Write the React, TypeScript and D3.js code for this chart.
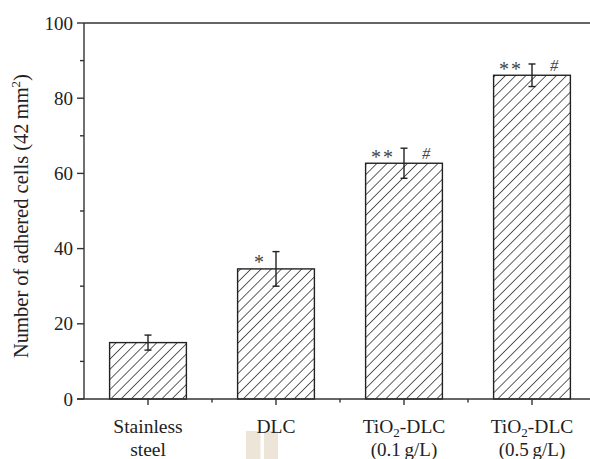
import React from "react";
import * as d3 from "d3";

const categories = ["Stainless steel", "DLC", "TiO2-DLC (0.1 g/L)", "TiO2-DLC (0.5 g/L)"];
const values = [15.0, 34.6, 62.7, 86.1];
const errors = [2.0, 4.6, 4.0, 3.0];
const stars = ["", "*", "**", "**"];
const hashes = ["", "", "#", "#"];
const yTicks = [0, 20, 40, 60, 80, 100];
const yMinorTicks = [10, 30, 50, 70, 90];

const W = 590, H = 459;
const left = 84, right = 596, top = 23, bottom = 399;
const axisColor = "#333";
const font = "'Liberation Serif', 'DejaVu Serif', serif";

export default function App() {
  const x = d3.scaleBand<string>().domain(categories).range([left, right]).paddingInner(0.4).paddingOuter(0.2);
  const y = d3.scaleLinear().domain([0, 100]).range([bottom, top]);
  const step = x.step();
  const bw = x.bandwidth();
  const boundaries = categories.slice(1).map((c) => (x(c) as number) - (step - bw) / 2);

  const labelLines = (c: string, i: number) => {
    const cx = (x(c) as number) + bw / 2;
    const y1 = 433, y2 = 456;
    if (i === 0) {
      return (
        <text key={c} textAnchor="middle" fontSize={19.5} fill="#222" fontFamily={font}>
          <tspan x={cx} y={y1}>Stainless</tspan>
          <tspan x={cx} y={y2}>steel</tspan>
        </text>
      );
    }
    if (i === 1) {
      return (
        <text key={c} x={cx} y={y1} textAnchor="middle" fontSize={19.5} fill="#222" fontFamily={font}>DLC</text>
      );
    }
    const conc = i === 2 ? "(0.1\u2009g/L)" : "(0.5\u2009g/L)";
    return (
      <g key={c}>
        <text x={cx} y={y1} textAnchor="middle" fontSize={19.5} fill="#222" fontFamily={font}>
          TiO<tspan fontSize={13} dy={4}>2</tspan><tspan dy={-4}>-DLC</tspan>
        </text>
        <text x={cx} y={y2} textAnchor="middle" fontSize={19} fill="#222" fontFamily={font}>{conc}</text>
      </g>
    );
  };

  return (
    <svg width={W} height={H} style={{ position: "absolute", left: 0, top: 0, background: "#fff" }}>
      <defs>
        <pattern id="hatch" patternUnits="userSpaceOnUse" width={7.2} height={7.2} patternTransform="rotate(45)">
          <line x1={0} y1={0} x2={0} y2={7.2} stroke="#1a1a1a" strokeWidth={1.4} />
        </pattern>
      </defs>
      <rect x={0} y={0} width={W} height={H} fill="#fff" />
      {/* watermark blocks */}
      <rect x={246} y={431} width={14.5} height={28} fill="#ede5d7" />
      <rect x={264} y={431} width={14} height={28} fill="#ede5d7" />

      {/* bars */}
      {categories.map((c, i) => (
        <rect key={c} x={x(c)} y={y(values[i])} width={bw} height={y(0) - y(values[i])}
          fill="url(#hatch)" stroke="#222" strokeWidth={1.4} />
      ))}
      {/* error bars */}
      {categories.map((c, i) => {
        const cx = (x(c) as number) + bw / 2;
        const yt = y(values[i] + errors[i]);
        const yb = y(values[i] - errors[i]);
        return (
          <g key={c} stroke="#222" strokeWidth={1.4}>
            <line x1={cx} x2={cx} y1={yt} y2={yb} />
            <line x1={cx - 3.5} x2={cx + 3.5} y1={yt} y2={yt} />
            <line x1={cx - 3.5} x2={cx + 3.5} y1={yb} y2={yb} />
          </g>
        );
      })}
      {/* annotations */}
      {categories.map((c, i) => {
        const cx = (x(c) as number) + bw / 2;
        const by = y(values[i]);
        return (
          <g key={c} fill="#444" fontFamily={font}>
            {stars[i] && (
              <text x={stars[i].length === 1 ? cx - 17 : cx - 21} y={by + 0.5} textAnchor="middle" fontSize={20}
                letterSpacing={stars[i].length > 1 ? 2 : 0}>{stars[i]}</text>
            )}
            {hashes[i] && (
              <text x={cx + 22} y={by - 4.5} textAnchor="middle" fontSize={16.5} fontStyle="italic">{hashes[i]}</text>
            )}
          </g>
        );
      })}

      {/* axes */}
      <g stroke={axisColor} strokeWidth={1.4} fill="none">
        <line x1={left} x2={left} y1={top} y2={bottom} />
        <line x1={left} x2={right} y1={top} y2={top} />
        <line x1={left - 7} x2={right} y1={bottom} y2={bottom} />
        {yTicks.map((t) => (
          <line key={t} x1={left - 7} x2={left} y1={y(t)} y2={y(t)} />
        ))}
        {yMinorTicks.map((t) => (
          <line key={t} x1={left - 4} x2={left} y1={y(t)} y2={y(t)} />
        ))}
        {categories.map((c) => {
          const cx = (x(c) as number) + bw / 2;
          return <line key={c} x1={cx} x2={cx} y1={bottom} y2={bottom + 6} />;
        })}
        {boundaries.map((b, i) => (
          <line key={i} x1={b} x2={b} y1={bottom} y2={bottom + 3.5} />
        ))}
      </g>
      {yTicks.map((t) => (
        <text key={t} x={left - 11} y={y(t)} dy="0.35em" textAnchor="end" fontSize={19} fill="#222" fontFamily={font}>{t}</text>
      ))}
      {categories.map((c, i) => labelLines(c, i))}

      <text transform={`translate(28, 216) rotate(-90)`} textAnchor="middle" fontSize={20.5} fill="#222" fontFamily={font}>
        Number of adhered cells (42{"\u2009"}mm<tspan fontSize={13} dy={-8}>2</tspan><tspan dy={8}>)</tspan>
      </text>
    </svg>
  );
}
